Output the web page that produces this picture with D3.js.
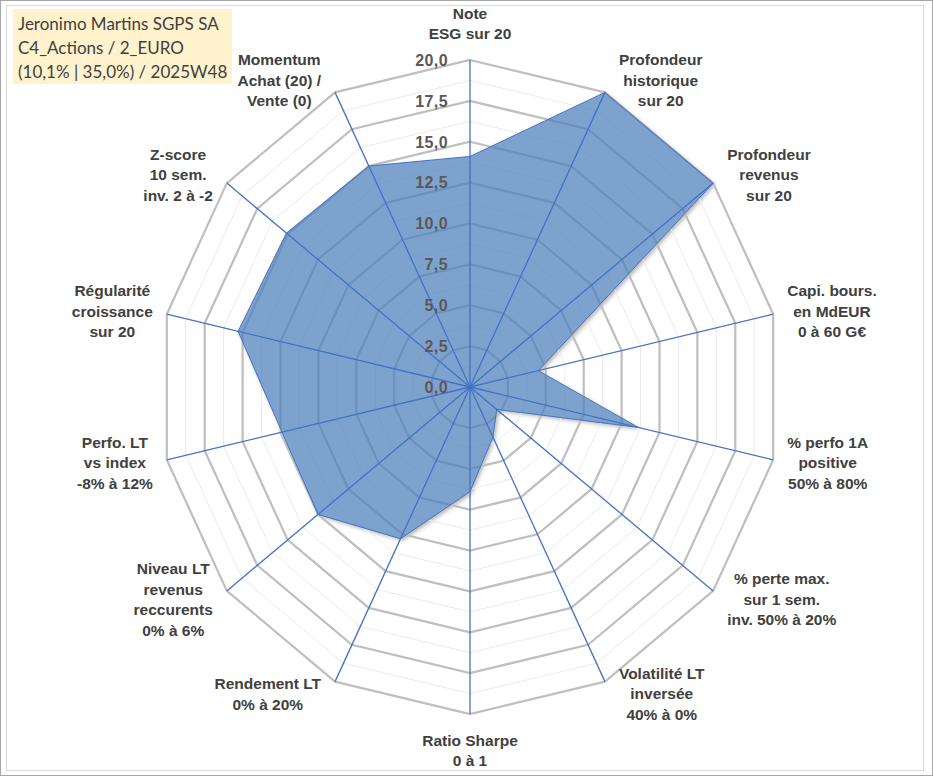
<!DOCTYPE html>
<html>
<head>
<meta charset="utf-8">
<script src="https://cdn.jsdelivr.net/npm/d3@7"></script>
<style>
  body { margin: 0; background: #fff; }
  svg { display: block; }
</style>
</head>
<body>
<svg id="radar_svg"></svg>
<script>
var viewWidth = 933;
var viewHeight = 776;

// chart values
var titleLines = ["Jeronimo Martins SGPS SA", "C4_Actions / 2_EURO", "(10,1% | 35,0%) / 2025W48"];
var axisLabels = [
  ["Note", "ESG sur 20"],
  ["Profondeur", "historique", "sur 20"],
  ["Profondeur", "revenus", "sur 20"],
  ["Capi. bours.", "en MdEUR", "0 à 60 G€"],
  ["% perfo 1A", "positive", "50% à 80%"],
  ["% perte max.", "sur 1 sem.", "inv. 50% à 20%"],
  ["Volatilité LT", "inversée", "40% à 0%"],
  ["Ratio Sharpe", "0 à 1"],
  ["Rendement LT", "0% à 20%"],
  ["Niveau LT", "revenus", "reccurents", "0% à 6%"],
  ["Perfo. LT", "vs index", "-8% à 12%"],
  ["Régularité", "croissance", "sur 20"],
  ["Z-score", "10 sem.", "inv. 2 à -2"],
  ["Momentum", "Achat (20) /", "Vente (0)"]
];
var scores = [14.1, 20, 20, 4.5, 11.1, 2.2, 3.4, 6.4, 10.3, 12.5, 12.4, 15.3, 15.1, 15.0];
var majorTicks = [0, 2.5, 5, 7.5, 10, 12.5, 15, 17.5, 20];
var minorTicks = [1.25, 3.75, 6.25, 8.75, 11.25, 13.75, 16.25, 18.75];

var cx = 470, cy = 387;
var blue = "#4472C4";

var svg = d3.select("#radar_svg")
    .attr("width", viewWidth)
    .attr("height", viewHeight);

// the plot is a bit squeezed horizontally, like the excel original
var rx = d3.scaleLinear().domain([0, 20]).range([0, 311]);
var ry = d3.scaleLinear().domain([0, 20]).range([0, 327]);
var angle = d3.scaleLinear().domain([0, axisLabels.length]).range([0, 2 * Math.PI]);

var fr = d3.formatLocale({decimal: ",", thousands: " ", grouping: [3], currency: ["", "€"]}).format(".1f");

function px(i, v) { return cx + rx(v) * Math.sin(angle(i)); }
function py(i, v) { return cy - ry(v) * Math.cos(angle(i)); }

function ring(v) {
  return d3.range(axisLabels.length).map(function(i) { return [px(i, v), py(i, v)]; });
}

var line = d3.line().curve(d3.curveLinearClosed);
var seriesPath = line(scores.map(function(v, i) { return [px(i, v), py(i, v)]; }));

var defs = svg.append("defs");
defs.append("filter")
    .attr("id", "blur")
    .attr("x", "-10%").attr("y", "-10%")
    .attr("width", "130%").attr("height", "130%")
  .append("feGaussianBlur")
    .attr("stdDeviation", 2);

// frames
svg.append("rect")
    .attr("x", 0.5).attr("y", 0.5)
    .attr("width", viewWidth - 1).attr("height", viewHeight - 1)
    .attr("fill", "none")
    .attr("stroke", "#a6a6a6");
svg.append("rect")
    .attr("x", 6.5).attr("y", 5.5)
    .attr("width", 917).attr("height", 765)
    .attr("fill", "none")
    .attr("stroke", "#d9d9d9");

// soft shadow of the series, cleared inside so it does not darken the fill
svg.append("path")
    .attr("d", seriesPath)
    .attr("transform", "translate(2,2)")
    .attr("fill", "#000")
    .attr("fill-opacity", 0.3)
    .attr("filter", "url(#blur)");
svg.append("path")
    .attr("d", seriesPath)
    .attr("fill", "#fff");

// grid
svg.append("g").selectAll("path")
    .data(minorTicks)
  .enter().append("path")
    .attr("d", function(d) { return line(ring(d)); })
    .attr("fill", "none")
    .attr("stroke", "#ebebeb")
    .attr("stroke-width", 1);

svg.append("g").selectAll("path")
    .data(majorTicks.filter(function(d) { return d > 0; }))
  .enter().append("path")
    .attr("d", function(d) { return line(ring(d)); })
    .attr("fill", "none")
    .attr("stroke", "#bfbfbf")
    .attr("stroke-width", 2.25);

// the series
svg.append("path")
    .datum(scores)
    .attr("d", seriesPath)
    .attr("fill", "#4F81BD")
    .attr("fill-opacity", 0.74)
    .attr("stroke", blue)
    .attr("stroke-width", 1);

// spokes
svg.append("g").selectAll("line")
    .data(axisLabels)
  .enter().append("line")
    .attr("x1", cx).attr("y1", cy)
    .attr("x2", function(d, i) { return px(i, 20); })
    .attr("y2", function(d, i) { return py(i, 20); })
    .attr("stroke", blue)
    .attr("stroke-width", 1.3);

// tick labels on the first axis
svg.append("g").selectAll("text")
    .data(majorTicks)
  .enter().append("text")
    .attr("x", cx - 22)
    .attr("y", function(d) { return py(0, d); })
    .attr("dy", "0.36em")
    .attr("text-anchor", "end")
    .style("font-family", "'Liberation Sans', Arial, sans-serif")
    .style("font-weight", "bold")
    .style("font-size", "16px")
    .style("letter-spacing", "0.4px")
    .style("fill", "#595959")
    .text(function(d) { return fr(d); });

// axis labels
var lh = 20.5;
var labels = svg.append("g").selectAll("text")
    .data(axisLabels)
  .enter().append("text")
    .attr("text-anchor", "middle")
    .style("font-family", "'Liberation Sans', Arial, sans-serif")
    .style("font-weight", "bold")
    .style("font-size", "15.5px")
    .style("fill", "#404040");

labels.each(function(d, i) {
  var t = d3.select(this);
  var w = 0;
  d.forEach(function(s) {
    var sp = t.append("tspan").text(s);
    w = Math.max(w, sp.node().getComputedTextLength());
  });
  var h = d.length * lh;
  var a = angle(i), s = Math.sin(a), c = Math.cos(a);
  var x0 = px(i, 20), y0 = py(i, 20);
  var lx, ly;
  if (Math.abs(s) < 0.01) {
    lx = x0;
    ly = y0 - c * (h / 2 + 16);
  } else {
    lx = x0 + (s > 0 ? 1 : -1) * (w / 2 + 14);
    ly = y0 - c * 13.5;
  }
  t.selectAll("tspan")
    .attr("x", lx)
    .attr("y", function(s, k) { return ly + (k - (d.length - 1) / 2) * lh; })
    .attr("dy", "0.36em");
});

// title box
svg.append("rect")
    .attr("x", 13).attr("y", 9)
    .attr("width", 219).attr("height", 75)
    .attr("fill", "#FFF2CC");

svg.append("g").selectAll("text")
    .data(titleLines)
  .enter().append("text")
    .attr("x", 18)
    .attr("y", function(d, i) { return 30 + i * 24; })
    .style("font-family", "Lato, 'Open Sans', sans-serif")
    .style("font-size", "17px")
    .style("fill", "#404040")
    .text(function(d) { return d; });
</script>
</body>
</html>
